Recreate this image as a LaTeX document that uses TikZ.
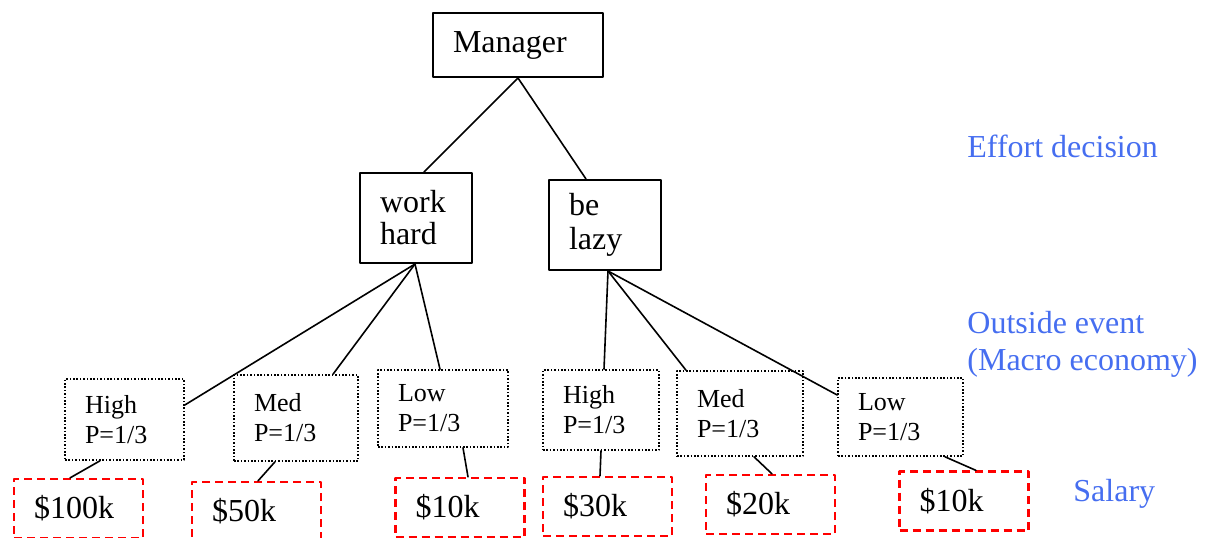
\documentclass[tikz,border=0pt]{standalone}
\usepackage{fontspec}
\setmainfont{Liberation Serif}
\usetikzlibrary{calc}
\definecolor{lblblue}{RGB}{70,110,240}
\begin{document}
\begin{tikzpicture}[x=0.5pt,y=-0.5pt,line cap=round,line join=round,
  solidbox/.style={draw,line width=1pt,inner xsep=10pt,inner ysep=0pt,align=left,font=\fontsize{16}{18}\selectfont},
  probbox/.style={draw,dash pattern=on 0.8pt off 0.9pt,line cap=butt,line width=0.8pt,inner xsep=10pt,inner ysep=0pt,align=left,font=\fontsize{13}{15}\selectfont},
  paybox/.style={draw=red,dash pattern=on 4pt off 2.5pt,line cap=butt,line width=1.1pt,inner xsep=10pt,inner ysep=0pt,minimum height=29.5pt,text width=44.5pt,align=left,font=\fontsize{16}{18}\selectfont},
  lbl/.style={text=lblblue,anchor=west,align=left,inner sep=0pt,font=\fontsize{16}{18.5}\selectfont},
  conn/.style={line width=0.8pt}]
  \useasboundingbox (0,0) rectangle (1205,537);
  \node[solidbox,minimum height=32pt,text width=65pt] (mgr) at (518,45) {Manager};
  \node[solidbox,minimum height=45pt,text width=36pt] (work) at (416,218) {\raisebox{-2pt}{work}\\hard};
  \node[solidbox,minimum height=45pt,text width=36pt] (lazy) at (605,225) {\raisebox{-3pt}{be}\\\raisebox{-2pt}{lazy}};
  \foreach \n/\x/\y/\w/\h/\t in {hi1/124.5/419.5/39.5/40.5/High,me1/296/418/42/43/Med,lo1/443/408.5/45/38.5/Low,
      hi2/601/410/38/40/High,me2/740/413.5/43/42.5/Med,lo2/900.5/417/42.5/39/Low}
    \node[probbox,text width=\w pt,minimum height=\h pt] (\n) at (\x,\y) {\t\\P=1/3};
  \foreach \n/\x/\y/\t in {s1/78.5/508.5/\$100k,s2/256.5/511.5/\$50k,s3/460/507.5/\$10k,
      s4/607.5/506.5/\$30k,s5/770.5/504.5/\$20k,s6/964/501/\$10k}
    \node[paybox] (\n) at (\x,\y) {\t};
  \node[lbl] (effort) at (967,146) {Effort decision};
  \node[lbl] (event) at (967,344.5) {Outside event\\(Macro economy)};
  \node[lbl] (salary) at (1073,494) {Salary};
  \draw[conn] (mgr.south) -- ($(work.north)+(8,0)$);
  \draw[conn] (mgr.south) -- ($(lazy.north)+(-19,0)$);
  \draw[conn] ($(work.south)+(-1,0)$) -- ($(hi1.east)+(0,-14.5)$);
  \draw[conn] ($(work.south)+(-1,0)$) -- ($(me1.north)+(37,0)$);
  \draw[conn] ($(work.south)+(-1,0)$) -- ($(lo1.north)+(-3,0)$);
  \draw[conn] ($(lazy.south)+(3,0)$) -- ($(hi2.north)+(3,0)$);
  \draw[conn] ($(lazy.south)+(3,0)$) -- ($(me2.north)+(-54,0)$);
  \draw[conn] ($(lazy.south)+(3,0)$) -- ($(lo2.west)+(0,-22)$);
  \draw[conn] ($(hi1.south)+(-24.5,0)$) -- ($(s1.north)+(-8.5,0)$);
  \draw[conn] ($(me1.south)+(-21,0)$) -- ($(s2.north)+(1.5,0)$);
  \draw[conn] ($(lo1.south)+(20,0)$) -- ($(s3.north)+(8,0)$);
  \draw[conn] (hi2.south) -- ($(s4.north)+(-7.5,0)$);
  \draw[conn] ($(me2.south)+(14,0)$) -- ($(s5.north)+(1.5,0)$);
  \draw[conn] ($(lo2.south)+(44.5,0)$) -- ($(s6.north)+(12,0)$);
\end{tikzpicture}
\end{document}
